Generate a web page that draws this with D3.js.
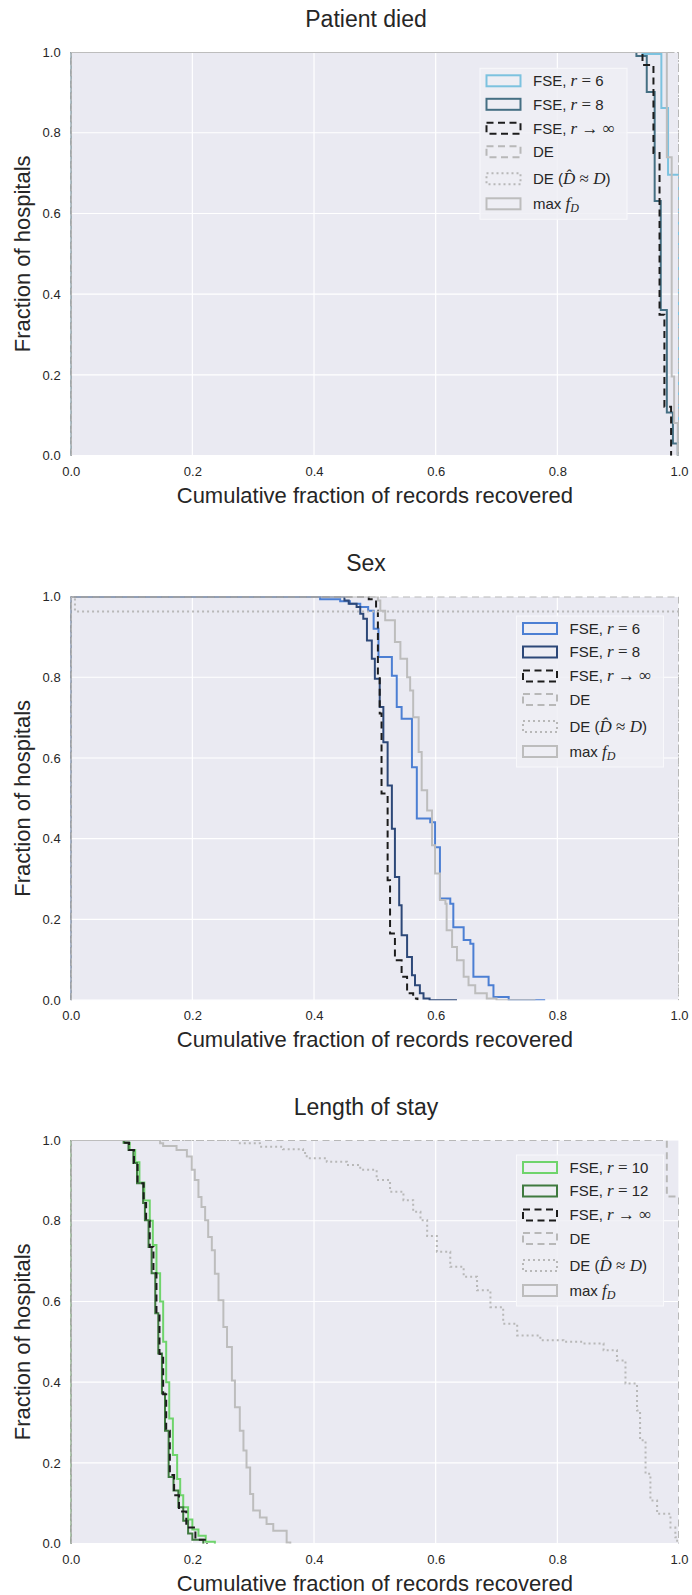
<!DOCTYPE html>
<html><head><meta charset="utf-8">
<script src="https://cdn.jsdelivr.net/npm/d3@7"></script>
<style>body{margin:0;background:#fff}</style>
</head><body>
<svg id="c" width="692" height="1595"></svg>
<script>
// ---------- data ----------
const panelTitles = ["Patient died", "Sex", "Length of stay"];
const xLabel = "Cumulative fraction of records recovered";
const yLabel = "Fraction of hospitals";
const tickVals = [0, 0.2, 0.4, 0.6, 0.8, 1.0];
const tickLabels = ["0.0", "0.2", "0.4", "0.6", "0.8", "1.0"];
const rLabels = [["6", "8"], ["6", "8"], ["10", "12"]];

// step curves: [x where the level starts, fraction of hospitals]
const died_fseA = [[0,1],[0.94,0.995],[0.971,0.861],[0.982,0.696],[1.0,0]];
const died_fseB = [[0,1],[0.93,0.99],[0.947,0.901],[0.960,0.631],[0.970,0.361],[0.980,0.107],[0.990,0.030],[0.998,0]];
const died_fseInf = [[0,1],[0.94,0.968],[0.958,0.75],[0.968,0.349],[0.976,0.121],[0.987,0]];
const died_de = [[0,1],[1.0,0]];
const died_deHat = [[0,1],[1.0,0]];
const died_maxfD = [[0,1],[0.980,0.739],[0.988,0.196],[0.992,0.081],[0.998,0]];

const sex_fseA = [[0,1],[0.41,0.993],[0.443,0.988],[0.459,0.982],[0.476,0.974],[0.489,0.965],[0.498,0.920],[0.506,0.850],[0.528,0.804],[0.536,0.726],[0.544,0.697],[0.561,0.577],[0.569,0.450],[0.591,0.441],[0.599,0.379],[0.607,0.252],[0.624,0.239],[0.629,0.181],[0.646,0.149],[0.657,0.140],[0.662,0.058],[0.687,0.037],[0.695,0.008],[0.72,0],[0.78,0]];
const sex_fseB = [[0,1],[0.45,0.99],[0.457,0.982],[0.470,0.974],[0.476,0.957],[0.481,0.945],[0.487,0.891],[0.495,0.846],[0.500,0.796],[0.508,0.726],[0.514,0.639],[0.521,0.532],[0.528,0.425],[0.533,0.305],[0.540,0.235],[0.544,0.161],[0.553,0.107],[0.561,0.062],[0.566,0.037],[0.574,0.017],[0.580,0.004],[0.59,0],[0.635,0]];
const sex_fseInf = [[0,1],[0.49,0.993],[0.502,0.965],[0.505,0.80],[0.508,0.71],[0.511,0.512],[0.521,0.297],[0.525,0.165],[0.533,0.099],[0.544,0.058],[0.553,0.017],[0.563,0.004],[0.57,0]];
const sex_de = [[0,1],[1.0,0]];
const sex_deHat = [[0,1],[0.007,0.963],[1.0,0]];
const sex_maxfD = [[0,1],[0.505,0.99],[0.509,0.965],[0.517,0.941],[0.533,0.887],[0.542,0.846],[0.553,0.800],[0.558,0.767],[0.563,0.701],[0.572,0.615],[0.577,0.520],[0.586,0.470],[0.594,0.384],[0.599,0.314],[0.607,0.248],[0.616,0.239],[0.618,0.173],[0.627,0.132],[0.635,0.099],[0.646,0.058],[0.654,0.037],[0.665,0.017],[0.684,0.004],[0.70,0],[0.764,0]];

const stay_fseA = [[0,1],[0.088,0.993],[0.097,0.975],[0.106,0.945],[0.113,0.895],[0.121,0.850],[0.130,0.800],[0.135,0.740],[0.141,0.670],[0.147,0.600],[0.152,0.500],[0.157,0.400],[0.162,0.310],[0.168,0.220],[0.175,0.160],[0.180,0.120],[0.185,0.090],[0.193,0.060],[0.200,0.035],[0.210,0.020],[0.222,0.005],[0.237,0]];
const stay_fseB = [[0,1],[0.087,0.993],[0.095,0.975],[0.103,0.943],[0.109,0.893],[0.119,0.844],[0.122,0.801],[0.128,0.735],[0.133,0.670],[0.139,0.571],[0.144,0.471],[0.150,0.372],[0.155,0.280],[0.161,0.165],[0.169,0.132],[0.177,0.090],[0.185,0.057],[0.193,0.025],[0.200,0.010],[0.218,0]];
const stay_fseInf = [[0,1],[0.087,0.993],[0.096,0.975],[0.104,0.943],[0.110,0.893],[0.120,0.844],[0.124,0.800],[0.130,0.735],[0.136,0.670],[0.141,0.570],[0.146,0.470],[0.152,0.370],[0.157,0.280],[0.163,0.170],[0.170,0.120],[0.178,0.080],[0.190,0.040],[0.205,0.010],[0.224,0]];
const stay_de = [[0,1],[0.980,0.86],[1.0,0]];
const stay_deHat = [[0,1],[0.278,0.992],[0.311,0.983],[0.349,0.977],[0.382,0.968],[0.388,0.955],[0.421,0.946],[0.454,0.938],[0.476,0.926],[0.503,0.901],[0.525,0.872],[0.547,0.851],[0.563,0.822],[0.575,0.801],[0.586,0.762],[0.602,0.723],[0.624,0.686],[0.646,0.661],[0.668,0.628],[0.690,0.586],[0.711,0.545],[0.734,0.516],[0.772,0.504],[0.810,0.500],[0.843,0.496],[0.876,0.479],[0.898,0.454],[0.912,0.397],[0.931,0.330],[0.936,0.256],[0.945,0.173],[0.953,0.107],[0.964,0.074],[0.986,0.040],[0.994,0.016],[0.997,0]];
const stay_maxfD = [[0,1],[0.147,0.992],[0.152,0.985],[0.174,0.975],[0.191,0.959],[0.199,0.926],[0.204,0.901],[0.210,0.859],[0.215,0.834],[0.221,0.801],[0.226,0.760],[0.232,0.727],[0.237,0.669],[0.243,0.603],[0.251,0.537],[0.257,0.487],[0.265,0.404],[0.270,0.338],[0.278,0.280],[0.284,0.231],[0.289,0.189],[0.295,0.123],[0.300,0.082],[0.311,0.065],[0.322,0.049],[0.333,0.032],[0.355,0.003],[0.361,0]];

const panelSeries = [
  [died_fseA, died_fseB, died_fseInf, died_de, died_deHat, died_maxfD],
  [sex_fseA, sex_fseB, sex_fseInf, sex_de, sex_deHat, sex_maxfD],
  [stay_fseA, stay_fseB, stay_fseInf, stay_de, stay_deHat, stay_maxfD]
];

// ---------- styles ----------
const colorsA = ["#7cc2df", "#4c7fd3", "#6fd46c"];
const colorsB = ["#456f83", "#2d4878", "#3f7a3f"];
const grayC = "#bdbdbd";
const styleFor = (p, k) => [
  {stroke: colorsA[p], dash: null},
  {stroke: colorsB[p], dash: null},
  {stroke: "#1c1c1c", dash: "7,4.5"},
  {stroke: "#b8b8b8", dash: "7,4.5"},
  {stroke: "#b8b8b8", dash: "2,3"},
  {stroke: grayC, dash: null}
][k];

const plotLeft = 70.7, plotRight = 679;
const plotTops = [52, 596.5, 1140];
const plotH = 403.7;
const legendLefts = [480, 516.5, 516.5];
const legendTops = [68.3, 616, 1155];
const textColor = "#262626";
const sans = "'Liberation Sans', Arial, sans-serif";
const serif = "'Liberation Serif', 'Times New Roman', serif";

const svg = d3.select("#c");
const x = d3.scaleLinear().domain([0, 1]).range([plotLeft, plotRight]);

panelTitles.forEach((title, p) => {
  const top = plotTops[p];
  const y = d3.scaleLinear().domain([0, 1]).range([top + plotH, top]);
  const g = svg.append("g");

  g.append("rect").attr("x", plotLeft).attr("y", top)
    .attr("width", plotRight - plotLeft).attr("height", plotH).attr("fill", "#EAEAF2");

  // grid
  g.selectAll(".gx").data(tickVals).enter().append("line")
    .attr("x1", d => x(d)).attr("x2", d => x(d)).attr("y1", top).attr("y2", top + plotH)
    .attr("stroke", "#fff").attr("stroke-width", 1.2);
  g.selectAll(".gy").data(tickVals).enter().append("line")
    .attr("y1", d => y(d)).attr("y2", d => y(d)).attr("x1", plotLeft).attr("x2", plotRight)
    .attr("stroke", "#fff").attr("stroke-width", 1.2);

  // axes
  const ax = g.append("g").attr("transform", `translate(0,${top + plotH})`)
    .call(d3.axisBottom(x).tickValues(tickVals).tickFormat((d, i) => tickLabels[i]).tickSize(0).tickPadding(11));
  const ay = g.append("g").attr("transform", `translate(${plotLeft},0)`)
    .call(d3.axisLeft(y).tickValues(tickVals).tickFormat((d, i) => tickLabels[i]).tickSize(0).tickPadding(10));
  [ax, ay].forEach(a => {
    a.select(".domain").remove();
    a.selectAll("text").attr("font-family", sans).attr("font-size", 13).attr("fill", textColor);
  });

  // clip
  const cid = "clip" + p;
  svg.append("clipPath").attr("id", cid).append("rect")
    .attr("x", plotLeft).attr("y", top).attr("width", plotRight - plotLeft).attr("height", plotH);

  const line = d3.line().x(d => x(d[0])).y(d => y(d[1])).curve(d3.curveStepAfter);
  const cg = g.append("g").attr("clip-path", `url(#${cid})`);
  panelSeries[p].forEach((s, k) => {
    const st = styleFor(p, k);
    const pts = [[s[0][0], 0]].concat(s);
    cg.append("path").attr("d", line(pts)).attr("fill", "none")
      .attr("stroke", st.stroke).attr("stroke-width", 2)
      .attr("stroke-dasharray", st.dash).attr("stroke-linejoin", "miter");
  });

  // labels
  g.append("text").attr("x", 366).attr("y", top - 25.5)
    .attr("text-anchor", "middle").attr("font-family", sans).attr("font-size", 23)
    .attr("fill", textColor).text(title);
  g.append("text").attr("x", (plotLeft + plotRight) / 2).attr("y", top + plotH + 47)
    .attr("text-anchor", "middle").attr("font-family", sans).attr("font-size", 22)
    .attr("fill", textColor).text(xLabel);
  g.append("text").attr("transform", `translate(30,${top + plotH / 2}) rotate(-90)`)
    .attr("text-anchor", "middle").attr("font-family", sans).attr("font-size", 22)
    .attr("fill", textColor).text(yLabel);

  // legend
  const lx = legendLefts[p], ly = legendTops[p];
  const lg = g.append("g");
  lg.append("rect").attr("x", lx).attr("y", ly).attr("width", 147).attr("height", 151)
    .attr("fill", "#EEEEF4").attr("fill-opacity", 0.85).attr("stroke", "#f8f8fb").attr("stroke-width", 1);
  const rowOff = [12.5, 36, 60, 83.5, 110.5, 135.5];
  const labels = [
    [{t: "FSE, "}, {t: "r", i: 1}, {t: " = ", s: 1}, {t: rLabels[p][0]}],
    [{t: "FSE, "}, {t: "r", i: 1}, {t: " = ", s: 1}, {t: rLabels[p][1]}],
    [{t: "FSE, "}, {t: "r", i: 1}, {t: " \u2192 ", s: 1}, {t: "\u221E", s: 1}],
    [{t: "DE"}],
    [{t: "DE ("}, {t: "D\u0302", i: 1}, {t: " \u2248 ", s: 1}, {t: "D", i: 1}, {t: ")"}],
    [{t: "max "}, {t: "f", i: 1}, {t: "D", i: 1, sub: 1}]
  ];
  labels.forEach((lab, k) => {
    const st = styleFor(p, k);
    const cy = ly + rowOff[k];
    lg.append("rect").attr("x", lx + 6.5).attr("y", cy - 5.5).attr("width", 34).attr("height", 11)
      .attr("fill", "none").attr("stroke", st.stroke).attr("stroke-width", 2)
      .attr("stroke-dasharray", st.dash);
    const t = lg.append("text").attr("x", lx + 53).attr("y", cy + 5.3)
      .attr("font-family", sans).attr("font-size", 15).attr("fill", textColor)
      .attr("xml:space", "preserve");
    lab.forEach(part => {
      const ts = t.append("tspan").text(part.t);
      if (part.i || part.s) ts.attr("font-family", serif).attr("font-size", 17);
      if (part.i) ts.attr("font-style", "italic");
      if (part.sub) ts.attr("font-size", 12).attr("dy", 3);
    });
  });
});
</script></body></html>
